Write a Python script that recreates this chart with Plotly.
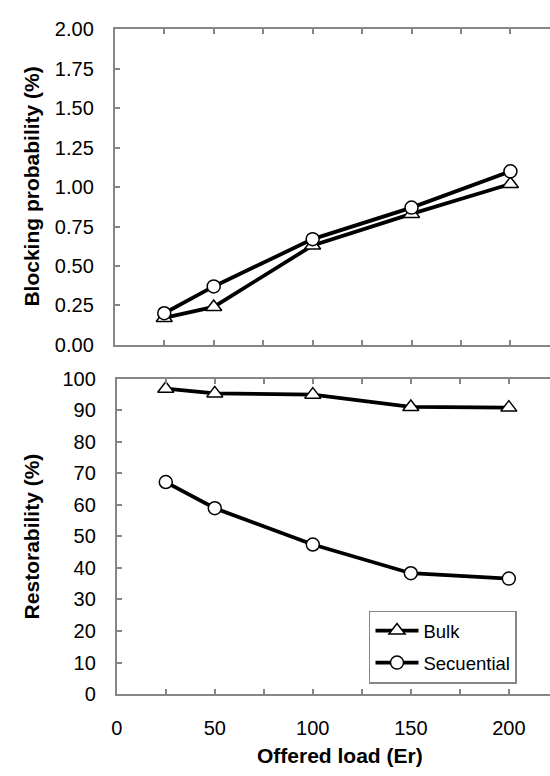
import plotly.graph_objects as go

# Offered load (Erlang) for each simulation point
load = [25, 50, 100, 150, 200]

# Blocking probability (%)
blocking_bulk = [0.17, 0.24, 0.63, 0.83, 1.02]
blocking_seq = [0.20, 0.37, 0.67, 0.87, 1.10]

# Restorability (%)
restor_bulk = [96.8, 95.3, 94.9, 91.0, 90.8]
restor_seq = [67.2, 58.9, 47.4, 38.3, 36.6]

series_names = ["Bulk", "Secuential"]

x_ticks = [0, 25, 50, 75, 100, 125, 150, 175, 200, 225]
x_ticktext = ["0", "", "50", "", "100", "", "150", "", "200", ""]

FONT = "Liberation Sans, Arial, sans-serif"
AXIS_GRAY = "#868686"
W, H = 550, 776

fig = go.Figure()

line_style = dict(color="black", width=3.8)
tri = dict(symbol="triangle-up", size=14, color="white",
           line=dict(color="black", width=1.5))
circ = dict(symbol="circle", size=13, color="white",
            line=dict(color="black", width=1.5))

# Upper panel: blocking probability
fig.add_trace(go.Scatter(x=load, y=blocking_bulk, mode="lines+markers",
                         line=line_style, marker=tri, showlegend=False,
                         xaxis="x", yaxis="y"))
fig.add_trace(go.Scatter(x=load, y=blocking_seq, mode="lines+markers",
                         line=line_style, marker=circ, showlegend=False,
                         xaxis="x", yaxis="y"))

# Lower panel: restorability
fig.add_trace(go.Scatter(x=load, y=restor_bulk, mode="lines+markers",
                         name=series_names[0], legendgroup="a",
                         line=line_style, marker=tri,
                         xaxis="x2", yaxis="y2"))
fig.add_trace(go.Scatter(x=load, y=restor_seq, mode="lines+markers",
                         name=series_names[1], legendgroup="b",
                         line=line_style, marker=circ,
                         xaxis="x2", yaxis="y2"))

common_x = dict(tickmode="array", tickvals=x_ticks, ticks="inside",
                ticklen=5, tickwidth=1.5, tickcolor=AXIS_GRAY,
                showline=True, linecolor=AXIS_GRAY, linewidth=2,
                mirror="ticks", showgrid=False, zeroline=False,
                tickfont=dict(family=FONT, size=20, color="black"))
common_y = dict(ticks="inside", ticklen=5, tickwidth=1.5, tickcolor=AXIS_GRAY,
                showline=True, linecolor=AXIS_GRAY, linewidth=2,
                showgrid=False, zeroline=False,
                tickfont=dict(family=FONT, size=20, color="black"),
                ticklabelstandoff=15)

fig.update_layout(
    width=W, height=H, autosize=False,
    margin=dict(l=0, r=0, t=0, b=0),
    paper_bgcolor="white", plot_bgcolor="white",
    font=dict(family=FONT, color="black"),
    xaxis=dict(domain=[110 / W, 1], range=[0, 220], anchor="y",
               showticklabels=False, ticktext=x_ticktext, **common_x),
    yaxis=dict(domain=[1 - 343.5 / H, 1 - 19 / H], range=[0, 2],
               dtick=0.25, tick0=0, tickformat=".2f", anchor="x", **common_y),
    xaxis2=dict(domain=[112 / W, 1], range=[0, 221], anchor="y2",
                ticktext=x_ticktext, ticklabelstandoff=15, **common_x),
    yaxis2=dict(domain=[1 - 703 / H, 1 - 378.3 / H], range=[0, 100],
                dtick=10, tick0=0, anchor="x2", **common_y),
    legend=dict(x=367 / W, y=1 - 617 / H, xanchor="left", yanchor="top",
                bgcolor="white", bordercolor=AXIS_GRAY, borderwidth=1.5,
                font=dict(family=FONT, size=18.5, color="black"),
                traceorder="grouped", tracegroupgap=5, itemwidth=43),
    showlegend=True,
)

title_font = dict(family=FONT, size=21, color="black")
fig.add_annotation(text="<b>Blocking probability (%)</b>", xref="paper", yref="paper",
                   x=26 / W, y=1 - 181 / H, textangle=-90, showarrow=False,
                   xanchor="center", yanchor="middle", font=title_font)
fig.add_annotation(text="<b>Restorability (%)</b>", xref="paper", yref="paper",
                   x=26 / W, y=1 - 541 / H, textangle=-90, showarrow=False,
                   xanchor="center", yanchor="middle", font=title_font)
fig.add_annotation(text="<b>Offered load (Er)</b>", xref="paper", yref="paper",
                   x=338 / W, y=1 - 766 / H, showarrow=False,
                   xanchor="center", yanchor="middle", font=title_font)

fig.write_html("out.html")
